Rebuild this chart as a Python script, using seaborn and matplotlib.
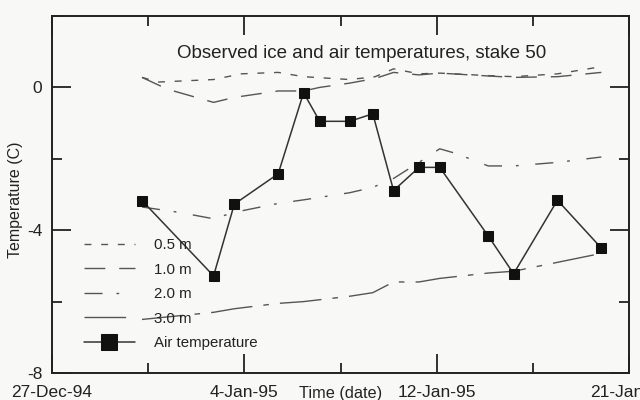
import numpy as np
import pandas as pd
import matplotlib
matplotlib.use("Agg")
import matplotlib.pyplot as plt
import seaborn as sns
from matplotlib.ticker import FixedLocator, FixedFormatter, MultipleLocator, NullFormatter

# ---- data (x = days since 27-Dec-94) ----
air_days = [3.9, 7.0, 7.9, 9.8, 10.9, 11.6, 12.9, 13.9, 14.8, 15.9, 16.8, 18.9, 20.0, 21.9, 23.8]
air_temp = [-3.17, -5.28, -3.27, -2.42, -0.15, -0.95, -0.95, -0.74, -2.89, -2.24, -2.24,
            -4.16, -5.22, -3.16, -4.5]

d05_days = [3.9, 4.6, 7.0, 8.2, 9.8, 10.9, 12.9, 14.0, 14.8, 15.9, 16.8, 18.9, 20.0, 21.9, 23.8]
d05_temp = [0.28, 0.15, 0.22, 0.38, 0.42, 0.3, 0.22, 0.3, 0.52, 0.38, 0.4, 0.33, 0.3, 0.38, 0.58]

d10_days = [3.9, 5.0, 7.0, 7.9, 9.8, 10.9, 11.6, 12.9, 14.0, 14.8, 15.9, 16.8, 18.9, 20.0, 21.9, 23.8]
d10_temp = [0.28, -0.05, -0.42, -0.28, -0.1, -0.1, 0.0, 0.12, 0.25, 0.42, 0.35, 0.4, 0.32, 0.28, 0.3, 0.42]

d20_days = [3.9, 5.5, 7.0, 7.9, 9.8, 10.9, 12.9, 13.9, 14.8, 15.9, 16.8, 17.5, 18.9, 20.0, 21.9, 23.8]
d20_temp = [-3.35, -3.5, -3.68, -3.5, -3.25, -3.15, -2.95, -2.8, -2.55, -2.1, -1.72, -1.85,
            -2.2, -2.2, -2.1, -1.95]

d30_days = [3.9, 7.0, 7.9, 9.8, 10.9, 12.9, 13.9, 14.8, 15.9, 16.8, 18.9, 20.0, 21.9, 23.8]
d30_temp = [-6.5, -6.3, -6.2, -6.05, -6.0, -5.85, -5.75, -5.45, -5.45, -5.35, -5.2, -5.15, -4.9, -4.65]

depth_labels = ["0.5 m", "1.0 m", "2.0 m", "3.0 m"]
x_tick_labels = ["27-Dec-94", "4-Jan-95", "12-Jan-95", "21-Jan-95"]
span_days = 25.0

ice = pd.concat([
    pd.DataFrame({"day": d05_days, "temp": d05_temp, "depth": depth_labels[0]}),
    pd.DataFrame({"day": d10_days, "temp": d10_temp, "depth": depth_labels[1]}),
    pd.DataFrame({"day": d20_days, "temp": d20_temp, "depth": depth_labels[2]}),
    pd.DataFrame({"day": d30_days, "temp": d30_temp, "depth": depth_labels[3]}),
], ignore_index=True)
air = pd.DataFrame({"day": air_days, "temp": air_temp})

# ---- style ----
sns.set_theme(style="white")
plt.rcParams["font.family"] = ["Liberation Sans", "DejaVu Sans"]
plt.rcParams["axes.unicode_minus"] = False
bg = "#f8f8f6"
ink = "#222222"

fig = plt.figure(figsize=(6.4, 4.0), dpi=100, facecolor=bg)
ax = fig.add_axes([52/640, 1-373/400, (629-52)/640, (373-16)/400])
ax.set_facecolor(bg)

dash_map = {
    "0.5 m": (5, 7),
    "1.0 m": (15, 10),
    "2.0 m": (13, 10, 2, 12),
    "3.0 m": (30, 8, 4, 8),
}
sns.lineplot(data=ice, x="day", y="temp", style="depth", style_order=depth_labels,
             dashes=dash_map, color="#555555", linewidth=1.0, ax=ax, legend=True,
             estimator=None, sort=True)
sns.lineplot(data=air, x="day", y="temp", color="#333333", linewidth=1.1,
             marker="s", markersize=6.5, markerfacecolor="#111111",
             markeredgecolor="#111111", ax=ax, label="Air temperature",
             estimator=None)

ax.set_xlim(0, span_days)
ax.set_ylim(-8, 2)

# ticks
ax.xaxis.set_major_locator(FixedLocator([0, span_days/3, 2*span_days/3, span_days]))
ax.xaxis.set_major_formatter(FixedFormatter(x_tick_labels))
ax.xaxis.set_minor_locator(MultipleLocator(span_days/6))
ax.xaxis.set_minor_formatter(NullFormatter())
ax.yaxis.set_major_locator(MultipleLocator(4))
ax.yaxis.set_minor_locator(MultipleLocator(2))
ax.tick_params(which="major", direction="in", length=13.5, width=1.3, color=ink,
               top=True, right=True, bottom=True, left=True,
               labelsize=12.5, labelcolor=ink)
ax.tick_params(which="minor", direction="in", length=7, width=1.3, color=ink,
               top=True, right=True, bottom=True, left=True)
ax.tick_params(axis="x", which="major", pad=8.5)
ax.tick_params(axis="y", which="major", pad=7)

for s in ax.spines.values():
    s.set_visible(True)
    s.set_color(ink)
    s.set_linewidth(1.4)

ax.set_xlabel("Time (date)", fontsize=11.7, color=ink)
ax.xaxis.set_label_coords(0.5, -0.037)
ax.set_ylabel("Temperature (C)", fontsize=11.5, color=ink)
ax.yaxis.set_label_coords(-0.05, 0.486)

ax.text(0.537, 0.896, "Observed ice and air temperatures, stake 50", transform=ax.transAxes,
        ha="center", va="center", fontsize=13.5, color=ink)

handles, labels = ax.get_legend_handles_labels()
order = [labels.index(l) for l in depth_labels + ["Air temperature"]]
leg = ax.legend([handles[i] for i in order], [labels[i] for i in order],
                loc="upper left", bbox_to_anchor=(0.037, 0.407), frameon=False,
                fontsize=10.8, handlelength=3.4, handletextpad=1.27, labelspacing=0.70,
                markerscale=1.7, borderaxespad=0.3)
for t in leg.get_texts():
    t.set_color(ink)

fig.savefig("out.png", dpi=100, facecolor=bg)
